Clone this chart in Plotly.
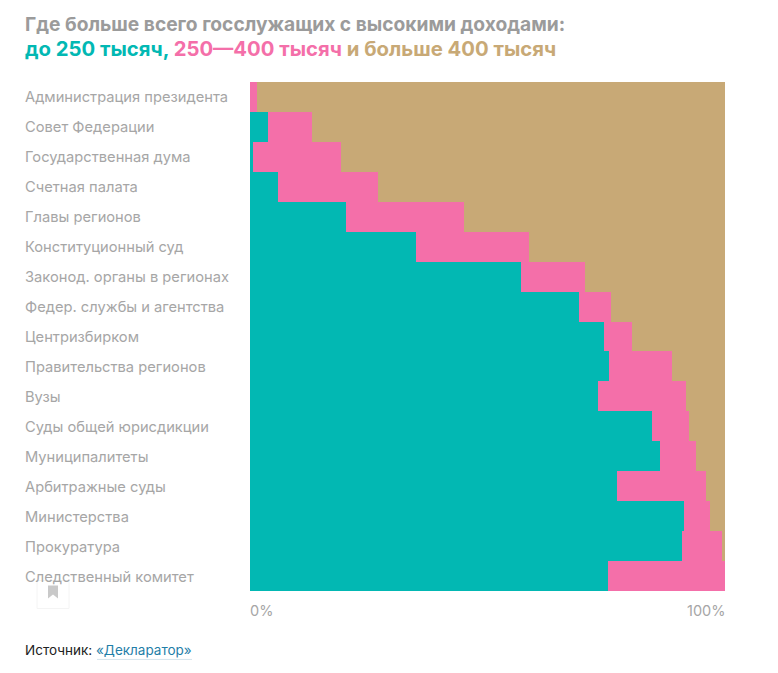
import plotly.graph_objects as go

# share of officials by income band, %
agencies = ['Администрация президента', 'Совет Федерации', 'Государственная дума', 'Счетная палата',
            'Главы регионов', 'Конституционный суд', 'Законод. органы в регионах', 'Федер. службы и агентства',
            'Центризбирком', 'Правительства регионов', 'Вузы', 'Суды общей юрисдикции',
            'Муниципалитеты', 'Арбитражные суды', 'Министерства', 'Прокуратура', 'Следственный комитет']
low = [0, 3.7, 0.7, 5.9, 20.2, 35, 57, 69.3, 74.5, 75.6, 73.3, 84.6, 86.3, 77.3, 91.4, 90.9, 75.4]
mid = [1.5, 9.3, 18.5, 21.1, 24.8, 23.7, 13.5, 6.7, 5.9, 13.2, 18.5, 7.8, 7.6, 18.7, 5.4, 8.5, 24.6]
high = [98.5, 87, 80.8, 73, 55, 41.3, 29.5, 24, 19.6, 11.2, 8.2, 7.6, 6.1, 4, 3.2, 0.6, 0]

TEAL = '#02b8b3'
PINK = '#f46fa9'
TAN = '#c8a976'
GREY = '#a6a6a6'
FONT = 'Inter, Roboto, sans-serif'

fig = go.Figure()
fig.add_trace(go.Bar(y=agencies, x=low, name='до 250 тысяч', orientation='h', marker=dict(color=TEAL, line_width=0)))
fig.add_trace(go.Bar(y=agencies, x=mid, name='250—400 тысяч', orientation='h', marker=dict(color=PINK, line_width=0)))
fig.add_trace(go.Bar(y=agencies, x=high, name='больше 400 тысяч', orientation='h', marker=dict(color=TAN, line_width=0)))

fig.update_layout(
    width=778, height=673,
    margin=dict(l=250, r=53, t=82, b=81.5),
    barmode='stack', bargap=0,
    showlegend=False,
    plot_bgcolor='white', paper_bgcolor='white',
    font=dict(family=FONT, color=GREY, size=14),
    xaxis=dict(range=[0, 100], visible=False),
    yaxis=dict(autorange='reversed', showticklabels=False, showgrid=False, zeroline=False),
)

# pixel helper for things outside the plot area
px = lambda v: (v - 250) / 475
py = lambda v: (591.5 - v) / 509.5

# row labels are left aligned, so annotations rather than tick labels
for name in agencies:
    fig.add_annotation(x=px(23), xref='paper', y=name, yref='y', text=name, showarrow=False,
                       xanchor='left', yanchor='middle', yshift=-0.5, font=dict(size=14.7, color=GREY))

fig.add_annotation(x=px(23), xref='paper', y=py(24), yref='paper', showarrow=False, xanchor='left', yanchor='middle',
                   text='<b>Где больше всего госслужащих с высокими доходами:</b>',
                   font=dict(size=19.2, color='#9b9b9b'))
fig.add_annotation(x=px(23), xref='paper', y=py(48), yref='paper', showarrow=False, xanchor='left', yanchor='middle',
                   text=f'<b><span style="color:{TEAL}">до 250 тысяч,</span> '
                        f'<span style="color:{PINK}">250—400 тысяч</span> '
                        f'<span style="color:{TAN}">и больше 400 тысяч</span></b>',
                   font=dict(size=20.3))

fig.add_annotation(x=0, xref='x', y=py(611), yref='paper', text='0%', showarrow=False, xanchor='left', yanchor='middle',
                   xshift=-2, font=dict(size=14.5, color=GREY))
fig.add_annotation(x=100, xref='x', y=py(611), yref='paper', text='100%', showarrow=False, xanchor='right', yanchor='middle',
                   xshift=2, font=dict(size=14.5, color=GREY))

fig.add_annotation(x=px(23), xref='paper', y=py(651), yref='paper', showarrow=False, xanchor='left', yanchor='middle',
                   text='<span style="color:#222222">Источник:</span> <span style="color:#1f7ea8">«Декларатор»</span>',
                   font=dict(size=13.5))
fig.add_shape(type='line', xref='paper', yref='paper', x0=px(97), x1=px(192), y0=py(660), y1=py(660),
              line=dict(color='#d5e4ec', width=1))

# bookmark button sitting over the last label
fig.add_shape(type='rect', xref='paper', yref='paper', x0=px(37), x1=px(69), y0=py(609), y1=py(581),
              line=dict(color='#f4f4f4', width=1), fillcolor='rgba(255,255,255,0.6)', layer='above')
fig.add_shape(type='path', xref='paper', yref='paper', layer='above', line_width=0, fillcolor='#c9c9c9',
              path=f'M {px(48)} {py(586)} L {px(58)} {py(586)} L {px(58)} {py(599)} '
                   f'L {px(53)} {py(595)} L {px(48)} {py(599)} Z')

fig.write_html('out.html', config=dict(displayModeBar=False), post_script="document.body.style.margin='0';")
